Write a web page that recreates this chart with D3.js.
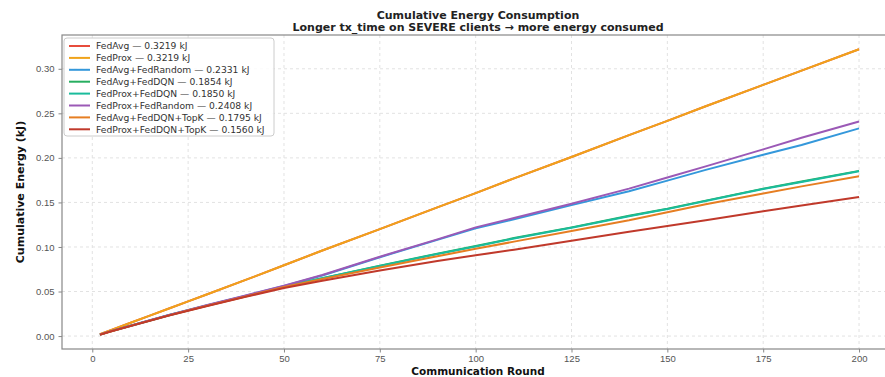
<!DOCTYPE html>
<html>
<head>
<meta charset="utf-8">
<script src="https://cdn.jsdelivr.net/npm/d3@7"></script>
<style>
  body { margin: 0; background: #fff; overflow: hidden; }
  svg { font-family: "DejaVu Sans", sans-serif; display: block; }
  .tick text { fill: #555; font-size: 9.5px; }
  .tick line { stroke: #888; }
  .domain { stroke: none; }
  .grid line { stroke: #e2e2e2; stroke-dasharray: 3,3; }
</style>
</head>
<body>
<div id="chart"></div>
<script>
var rounds = [2, 5, 10, 15, 20, 25, 30, 40, 50, 60, 75, 90, 100, 110, 125, 140, 150, 160, 175, 185, 200];

// cumulative energy (kJ) per method
var fedAvg         = [0.0020, 0.0068, 0.0150, 0.0230, 0.0310, 0.0390, 0.0470, 0.0630, 0.0795, 0.0960, 0.1200, 0.1445, 0.1605, 0.1770, 0.2010, 0.2255, 0.2415, 0.2580, 0.2820, 0.2980, 0.3219];
var fedProx        = [0.0020, 0.0068, 0.0150, 0.0230, 0.0310, 0.0390, 0.0470, 0.0630, 0.0795, 0.0960, 0.1200, 0.1445, 0.1605, 0.1770, 0.2010, 0.2255, 0.2415, 0.2580, 0.2820, 0.2980, 0.3219];
var fedAvgRandom   = [0.0016, 0.0055, 0.0116, 0.0176, 0.0236, 0.0291, 0.0346, 0.0452, 0.0562, 0.0680, 0.0885, 0.1080, 0.1210, 0.1310, 0.1470, 0.1625, 0.1745, 0.1865, 0.2035, 0.2145, 0.2331];
var fedAvgDqn      = [0.0016, 0.0055, 0.0115, 0.0175, 0.0234, 0.0289, 0.0343, 0.0448, 0.0555, 0.0650, 0.0790, 0.0925, 0.1010, 0.1100, 0.1220, 0.1350, 0.1430, 0.1520, 0.1655, 0.1735, 0.1854];
var fedProxDqn     = [0.0016, 0.0055, 0.0115, 0.0174, 0.0233, 0.0288, 0.0342, 0.0447, 0.0553, 0.0648, 0.0787, 0.0921, 0.1005, 0.1095, 0.1215, 0.1345, 0.1425, 0.1515, 0.1650, 0.1730, 0.1850];
var fedProxRandom  = [0.0016, 0.0056, 0.0117, 0.0177, 0.0237, 0.0292, 0.0348, 0.0455, 0.0565, 0.0685, 0.0890, 0.1085, 0.1220, 0.1325, 0.1485, 0.1655, 0.1780, 0.1905, 0.2095, 0.2225, 0.2408];
var fedAvgDqnTopk  = [0.0016, 0.0054, 0.0114, 0.0173, 0.0232, 0.0287, 0.0340, 0.0445, 0.0550, 0.0640, 0.0770, 0.0895, 0.0980, 0.1060, 0.1180, 0.1300, 0.1390, 0.1480, 0.1600, 0.1680, 0.1795];
var fedProxDqnTopk = [0.0015, 0.0054, 0.0113, 0.0172, 0.0231, 0.0285, 0.0338, 0.0441, 0.0540, 0.0620, 0.0735, 0.0842, 0.0906, 0.0970, 0.1070, 0.1170, 0.1235, 0.1300, 0.1400, 0.1465, 0.1560];

var seriesNames = ["FedAvg", "FedProx", "FedAvg+FedRandom", "FedAvg+FedDQN", "FedProx+FedDQN",
                   "FedProx+FedRandom", "FedAvg+FedDQN+TopK", "FedProx+FedDQN+TopK"];
var seriesValues = [fedAvg, fedProx, fedAvgRandom, fedAvgDqn, fedProxDqn, fedProxRandom, fedAvgDqnTopk, fedProxDqnTopk];
var seriesColors = ["#e74c3c", "#f0a31a", "#3498db", "#27ae60", "#1abc9c", "#9b59b6", "#e67e22", "#c0392b"];

var xTicks = [0, 25, 50, 75, 100, 125, 150, 175, 200];
var yTicks = [0, 0.05, 0.10, 0.15, 0.20, 0.25, 0.30];

var width = 885, height = 377;
var plot = { left: 62, right: 897, top: 35, bottom: 349 };

var series = seriesNames.map(function(name, i) {
  var vals = seriesValues[i];
  return {
    name: name,
    color: seriesColors[i],
    final: vals[vals.length - 1],
    points: rounds.map(function(r, j) { return { round: r, value: vals[j] }; })
  };
});

// matplotlib style 5% margins around the data
var xMin = d3.min(rounds), xMax = d3.max(rounds);
var xPad = (xMax - xMin) * 0.05;
var allVals = d3.merge(seriesValues);
var yMin = d3.min(allVals), yMax = d3.max(allVals);
var yPad = (yMax - yMin) * 0.05;

var x = d3.scaleLinear()
  .domain([xMin - xPad, xMax + xPad])
  .range([plot.left, plot.right]);

var y = d3.scaleLinear()
  .domain([yMin - yPad, yMax + yPad])
  .range([plot.bottom, plot.top]);

var svg = d3.select("#chart")
  .append("svg")
    .attr("width", width)
    .attr("height", height);

// grid
svg.append("g")
  .attr("class", "grid")
  .selectAll("line")
  .data(xTicks)
  .enter().append("line")
    .attr("x1", d => x(d)).attr("x2", d => x(d))
    .attr("y1", plot.top).attr("y2", plot.bottom);

svg.append("g")
  .attr("class", "grid")
  .selectAll("line")
  .data(yTicks)
  .enter().append("line")
    .attr("x1", plot.left).attr("x2", plot.right)
    .attr("y1", d => y(d)).attr("y2", d => y(d));

// axes
var xAxis = d3.axisBottom(x)
  .tickValues(xTicks)
  .tickFormat(d3.format("d"))
  .tickSizeInner(3.5)
  .tickSizeOuter(0)
  .tickPadding(3);

var yAxis = d3.axisLeft(y)
  .tickValues(yTicks)
  .tickFormat(d3.format(".2f"))
  .tickSizeInner(3.5)
  .tickSizeOuter(0)
  .tickPadding(4);

svg.append("g")
  .attr("class", "x_axis")
  .attr("transform", "translate(0," + plot.bottom + ")")
  .call(xAxis);

svg.append("g")
  .attr("class", "y_axis")
  .attr("transform", "translate(" + plot.left + ",0)")
  .call(yAxis);

// frame
svg.append("rect")
  .attr("x", plot.left)
  .attr("y", plot.top)
  .attr("width", plot.right - plot.left)
  .attr("height", plot.bottom - plot.top)
  .attr("fill", "none")
  .attr("stroke", "#888")
  .attr("stroke-width", 1.2);

// lines
var line = d3.line()
  .x(d => x(d.round))
  .y(d => y(d.value));

svg.append("g")
  .selectAll("path")
  .data(series)
  .enter().append("path")
    .attr("d", d => line(d.points))
    .attr("fill", "none")
    .attr("stroke", d => d.color)
    .attr("stroke-width", 2)
    .attr("stroke-linejoin", "round");

// titles
svg.append("text")
  .attr("x", 478).attr("y", 19)
  .attr("text-anchor", "middle")
  .attr("font-size", 11).attr("font-weight", "bold")
  .attr("fill", "#222")
  .text("Cumulative Energy Consumption");

svg.append("text")
  .attr("x", 478).attr("y", 31)
  .attr("text-anchor", "middle")
  .attr("font-size", 11).attr("font-weight", "bold")
  .attr("fill", "#222")
  .text("Longer tx_time on SEVERE clients \u2192 more energy consumed");

svg.append("text")
  .attr("x", 478).attr("y", 375)
  .attr("text-anchor", "middle")
  .attr("font-size", 10.5).attr("font-weight", "bold")
  .attr("fill", "#111")
  .text("Communication Round");

svg.append("text")
  .attr("transform", "translate(24,192) rotate(-90)")
  .attr("text-anchor", "middle")
  .attr("font-size", 11).attr("font-weight", "bold")
  .attr("fill", "#111")
  .text("Cumulative Energy (kJ)");

// legend
var legend = svg.append("g")
  .attr("transform", "translate(64,38)");

legend.append("rect")
  .attr("width", 210)
  .attr("height", 98)
  .attr("rx", 3)
  .attr("fill", "#fff")
  .attr("fill-opacity", 0.85)
  .attr("stroke", "#ccc");

var item = legend.selectAll("g.item")
  .data(series)
  .enter().append("g")
    .attr("class", "item")
    .attr("transform", (d, i) => "translate(0," + (8 + i * 11.9) + ")");

item.append("line")
  .attr("x1", 5).attr("x2", 26)
  .attr("stroke", d => d.color)
  .attr("stroke-width", 2);

item.append("text")
  .attr("x", 32).attr("dy", "0.35em")
  .attr("font-size", 9.2)
  .attr("fill", "#333")
  .text(d => d.name + " \u2014 " + d.final.toFixed(4) + " kJ");
</script>
</body>
</html>
